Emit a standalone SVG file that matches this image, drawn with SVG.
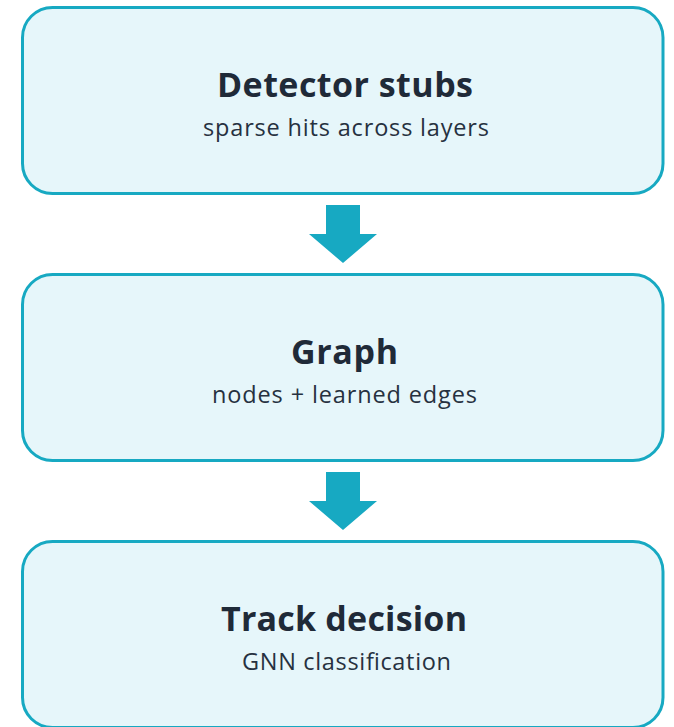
<svg xmlns="http://www.w3.org/2000/svg" width="674" height="727" viewBox="0 0 674 727">
<style>
.box{fill:#e6f6fa;stroke:#17a9c2;stroke-width:3}
.arrow{fill:#17a9c2}
.t{font-family:"Open Sans",Lato,sans-serif;font-weight:bold;font-size:34px;fill:#1f2a38;text-anchor:middle}
.s{font-family:"Open Sans",Lato,sans-serif;font-size:23.5px;fill:#263140;text-anchor:middle}
</style>
<rect width="674" height="727" fill="#ffffff"/>
<g id="node-detector">
<rect class="box" x="22.5" y="7.5" width="640.5" height="186" rx="30"/>
<text class="t" x="345" y="97" textLength="256" lengthAdjust="spacing">Detector stubs</text>
<text class="s" x="346" y="136" textLength="286" lengthAdjust="spacing">sparse hits across layers</text>
</g>
<g id="node-graph">
<rect class="box" x="22.5" y="274.5" width="640.5" height="186" rx="30"/>
<text class="t" x="344.5" y="364" textLength="107" lengthAdjust="spacing">Graph</text>
<text class="s" x="344.5" y="403" textLength="265" lengthAdjust="spacing">nodes + learned edges</text>
</g>
<g id="node-track">
<rect class="box" x="22.5" y="541.5" width="640.5" height="186" rx="30"/>
<text class="t" x="344" y="631" textLength="246" lengthAdjust="spacing">Track decision</text>
<text class="s" x="346.5" y="670" textLength="209" lengthAdjust="spacing">GNN classification</text>
</g>
<g id="connectors">
<polygon class="arrow" points="326,205 360,205 360,234 377,234 343,263 309,234 326,234"/>
<polygon class="arrow" points="326,472 360,472 360,501 377,501 343,530 309,501 326,501"/>
</g>
</svg>
